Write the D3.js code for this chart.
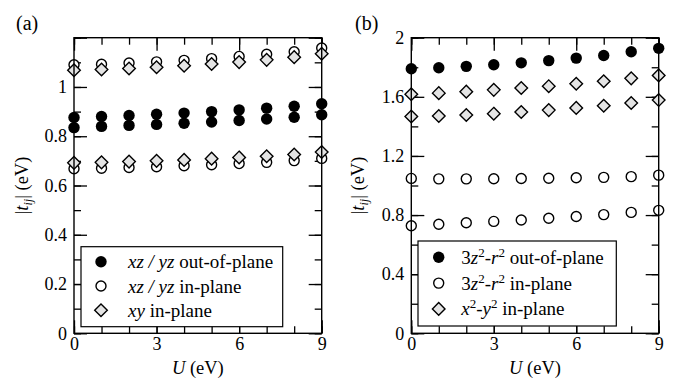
<!DOCTYPE html>
<html>
<head>
<meta charset="utf-8">
<script src="https://cdn.jsdelivr.net/npm/d3@7"></script>
<style>
  body { margin: 0; background: #fff; }
  svg text { font-family: "Liberation Serif", "Times New Roman", Times, "DejaVu Serif", serif; fill: #000; }
</style>
</head>
<body>
<div id="chart"></div>
<script>
// hopping parameters vs U
const uValues = [0, 1, 2, 3, 4, 5, 6, 7, 8, 9];

// panel (a): xz/yz and xy orbitals
const aOutUpper = [0.876, 0.880, 0.884, 0.889, 0.894, 0.900, 0.907, 0.914, 0.922, 0.932];
const aOutLower = [0.835, 0.840, 0.844, 0.848, 0.853, 0.858, 0.864, 0.870, 0.877, 0.887];
const aInUpper = [1.090, 1.092, 1.097, 1.102, 1.108, 1.115, 1.124, 1.133, 1.143, 1.158];
const aInLower = [0.668, 0.670, 0.673, 0.676, 0.680, 0.684, 0.689, 0.694, 0.701, 0.710];
const aXyUpper = [1.068, 1.071, 1.075, 1.080, 1.086, 1.093, 1.101, 1.110, 1.121, 1.135];
const aXyLower = [0.692, 0.694, 0.697, 0.700, 0.704, 0.709, 0.714, 0.719, 0.726, 0.736];

// panel (b): eg orbitals
const bOut = [1.790, 1.797, 1.806, 1.817, 1.830, 1.845, 1.862, 1.880, 1.905, 1.928];
const bInUpper = [1.048, 1.045, 1.045, 1.046, 1.047, 1.049, 1.052, 1.055, 1.060, 1.070];
const bInLower = [0.728, 0.738, 0.748, 0.757, 0.767, 0.778, 0.790, 0.803, 0.818, 0.832];
const bX2Upper = [1.617, 1.625, 1.635, 1.647, 1.660, 1.672, 1.688, 1.705, 1.725, 1.745];
const bX2Lower = [1.467, 1.470, 1.477, 1.486, 1.497, 1.510, 1.525, 1.540, 1.558, 1.578];

const xMajor = [0, 3, 6, 9];
const aYMajor = [0, 0.2, 0.4, 0.6, 0.8, 1, 1.2];
const aYLabels = ['0', '0.2', '0.4', '0.6', '0.8', '1', ''];
const bYMajor = [0, 0.4, 0.8, 1.2, 1.6, 2];
const bYLabels = ['0', '0.4', '0.8', '1.2', '1.6', '2'];

const W = 696, H = 378;
const SERIF = '"Liberation Serif", "Times New Roman", Times, serif';
const svg = d3.select('#chart').append('svg')
  .attr('width', W).attr('height', H)
  .attr('viewBox', `0 0 ${W} ${H}`)
  .style('font-family', SERIF);

const DIAMOND_FILL = '#e4e4e4';

function drawPanel(cfg) {
  const x = d3.scaleLinear().domain([0, 9]).range([cfg.left, cfg.right]);
  const y = d3.scaleLinear().domain([0, cfg.ymax]).range([cfg.bottom, cfg.top]);
  const g = svg.append('g');

  const majorLen = 13, minorLen = 7;
  const yMinor = d3.range(0, cfg.ymax + 1e-9, cfg.minorStep).map(v => +v.toFixed(3));

  const styleAxis = sel => {
    sel.attr('font-family', null).attr('font-size', null);
    sel.select('.domain').remove();
    sel.selectAll('line').attr('stroke', '#000').attr('stroke-width', 1.3);
    sel.selectAll('text').attr('font-size', 18).style('font-family', SERIF);
  };

  // bottom
  g.append('g').attr('transform', `translate(0,${cfg.bottom})`)
    .call(d3.axisBottom(x).tickValues(uValues).tickFormat('').tickSize(-minorLen).tickSizeOuter(0))
    .call(styleAxis);
  g.append('g').attr('transform', `translate(0,${cfg.bottom})`)
    .call(d3.axisBottom(x).tickValues(xMajor).tickFormat(d3.format('d')).tickSize(-majorLen).tickSizeOuter(0).tickPadding(4))
    .call(styleAxis);
  // top
  g.append('g').attr('transform', `translate(0,${cfg.top})`)
    .call(d3.axisTop(x).tickValues(uValues).tickFormat('').tickSize(-minorLen).tickSizeOuter(0))
    .call(styleAxis);
  g.append('g').attr('transform', `translate(0,${cfg.top})`)
    .call(d3.axisTop(x).tickValues(xMajor).tickFormat('').tickSize(-majorLen).tickSizeOuter(0))
    .call(styleAxis);
  // left
  g.append('g').attr('transform', `translate(${cfg.left},0)`)
    .call(d3.axisLeft(y).tickValues(yMinor).tickFormat('').tickSize(-minorLen).tickSizeOuter(0))
    .call(styleAxis);
  g.append('g').attr('transform', `translate(${cfg.left},0)`)
    .call(d3.axisLeft(y).tickValues(cfg.yMajor).tickFormat((d, i) => cfg.yLabels[i]).tickSize(-majorLen).tickSizeOuter(0).tickPadding(7))
    .call(styleAxis);
  // right
  g.append('g').attr('transform', `translate(${cfg.right},0)`)
    .call(d3.axisRight(y).tickValues(yMinor).tickFormat('').tickSize(-minorLen).tickSizeOuter(0))
    .call(styleAxis);
  g.append('g').attr('transform', `translate(${cfg.right},0)`)
    .call(d3.axisRight(y).tickValues(cfg.yMajor).tickFormat('').tickSize(-majorLen).tickSizeOuter(0))
    .call(styleAxis);

  // series
  cfg.series.forEach(s => {
    g.append('g').selectAll('.pt').data(s.values.map((v, i) => [uValues[i], v]))
      .join('path')
      .attr('transform', d => `translate(${x(d[0])},${y(d[1])})`)
      .attr('d', markerPath(s.type))
      .attr('fill', markerFill(s.type))
      .attr('stroke', '#000')
      .attr('stroke-width', s.type === 'filled' ? 0 : 1.4);
  });

  // frame
  g.append('rect')
    .attr('x', cfg.left).attr('y', cfg.top)
    .attr('width', cfg.right - cfg.left).attr('height', cfg.bottom - cfg.top)
    .attr('fill', 'none').attr('stroke', '#000').attr('stroke-width', 1.4);

  // legend
  const L = cfg.legend;
  g.append('rect')
    .attr('x', L.x).attr('y', L.y).attr('width', L.w).attr('height', L.h)
    .attr('fill', '#fff').attr('stroke', '#000').attr('stroke-width', 1.2);
  L.items.forEach((it, i) => {
    const cy = L.y + L.first + i * L.step;
    g.append('path')
      .attr('transform', `translate(${L.x + L.mx},${cy})`)
      .attr('d', markerPath(it.type))
      .attr('fill', markerFill(it.type))
      .attr('stroke', '#000')
      .attr('stroke-width', it.type === 'filled' ? 0 : 1.4);
    const t = g.append('text')
      .attr('x', L.x + L.tx).attr('y', cy + 6.5)
      .attr('font-size', 19);
    it.parts.forEach(p => {
      const ts = t.append('tspan').text(p.t);
      if (p.i) ts.attr('font-style', 'italic');
      if (p.sup) ts.attr('font-size', 13).attr('dy', -7);
      if (p.down) ts.attr('dy', 7);
    });
  });

  // axis titles
  const xt = g.append('text')
    .attr('x', (cfg.left + cfg.right) / 2).attr('y', 374)
    .attr('text-anchor', 'middle').attr('font-size', 18.5);
  xt.append('tspan').attr('font-style', 'italic').text('U');
  xt.append('tspan').text(' (eV)');

  const yt = g.append('text')
    .attr('transform', `translate(${cfg.ylabelX},${(cfg.top + cfg.bottom) / 2}) rotate(-90)`)
    .attr('text-anchor', 'middle').attr('font-size', 18.5);
  yt.append('tspan').text('|');
  yt.append('tspan').attr('font-style', 'italic').text('t');
  yt.append('tspan').attr('font-style', 'italic').attr('font-size', 12).attr('dy', 4).text('ij');
  yt.append('tspan').attr('dy', -4).text('| (eV)');

  g.append('text')
    .attr('x', cfg.tagX).attr('y', 30)
    .attr('font-size', 20).text(cfg.tag);
}

function markerPath(type) {
  if (type === 'diamond') return 'M0,-6.3L6.3,0L0,6.3L-6.3,0Z';
  const r = type === 'filled' ? 5.7 : 5;
  return `M${r},0A${r},${r} 0 1,1 ${-r},0A${r},${r} 0 1,1 ${r},0Z`;
}
function markerFill(type) {
  if (type === 'filled') return '#000';
  if (type === 'open') return '#fff';
  return DIAMOND_FILL;
}

drawPanel({
  left: 74, right: 321.7, top: 37.7, bottom: 333.3,
  ymax: 1.2, minorStep: 0.1, yMajor: aYMajor, yLabels: aYLabels,
  ylabelX: 28, tag: '(a)', tagX: 16,
  series: [
    { type: 'filled', values: aOutUpper },
    { type: 'filled', values: aOutLower },
    { type: 'open', values: aInUpper },
    { type: 'open', values: aInLower },
    { type: 'diamond', values: aXyUpper },
    { type: 'diamond', values: aXyLower }
  ],
  legend: {
    x: 81, y: 246.7, w: 201.7, h: 80, first: 15, step: 24.3, mx: 20, tx: 47,
    items: [
      { type: 'filled', parts: [{ t: 'xz / yz', i: true }, { t: ' out-of-plane' }] },
      { type: 'open', parts: [{ t: 'xz / yz', i: true }, { t: ' in-plane' }] },
      { type: 'diamond', parts: [{ t: 'xy', i: true }, { t: ' in-plane' }] }
    ]
  }
});

drawPanel({
  left: 411.3, right: 658.7, top: 37.7, bottom: 333.3,
  ymax: 2, minorStep: 0.2, yMajor: bYMajor, yLabels: bYLabels,
  ylabelX: 364, tag: '(b)', tagX: 355,
  series: [
    { type: 'filled', values: bOut },
    { type: 'open', values: bInUpper },
    { type: 'open', values: bInLower },
    { type: 'diamond', values: bX2Upper },
    { type: 'diamond', values: bX2Lower }
  ],
  legend: {
    x: 418, y: 241, w: 198.3, h: 85, first: 16.3, step: 25.8, mx: 20.7, tx: 43.3,
    items: [
      { type: 'filled', parts: [{ t: '3' }, { t: 'z', i: true }, { t: '2', sup: true }, { t: '-', down: true }, { t: 'r', i: true }, { t: '2', sup: true }, { t: ' out-of-plane', down: true }] },
      { type: 'open', parts: [{ t: '3' }, { t: 'z', i: true }, { t: '2', sup: true }, { t: '-', down: true }, { t: 'r', i: true }, { t: '2', sup: true }, { t: ' in-plane', down: true }] },
      { type: 'diamond', parts: [{ t: 'x', i: true }, { t: '2', sup: true }, { t: '-', down: true }, { t: 'y', i: true }, { t: '2', sup: true }, { t: ' in-plane', down: true }] }
    ]
  }
});
</script>
</body>
</html>
